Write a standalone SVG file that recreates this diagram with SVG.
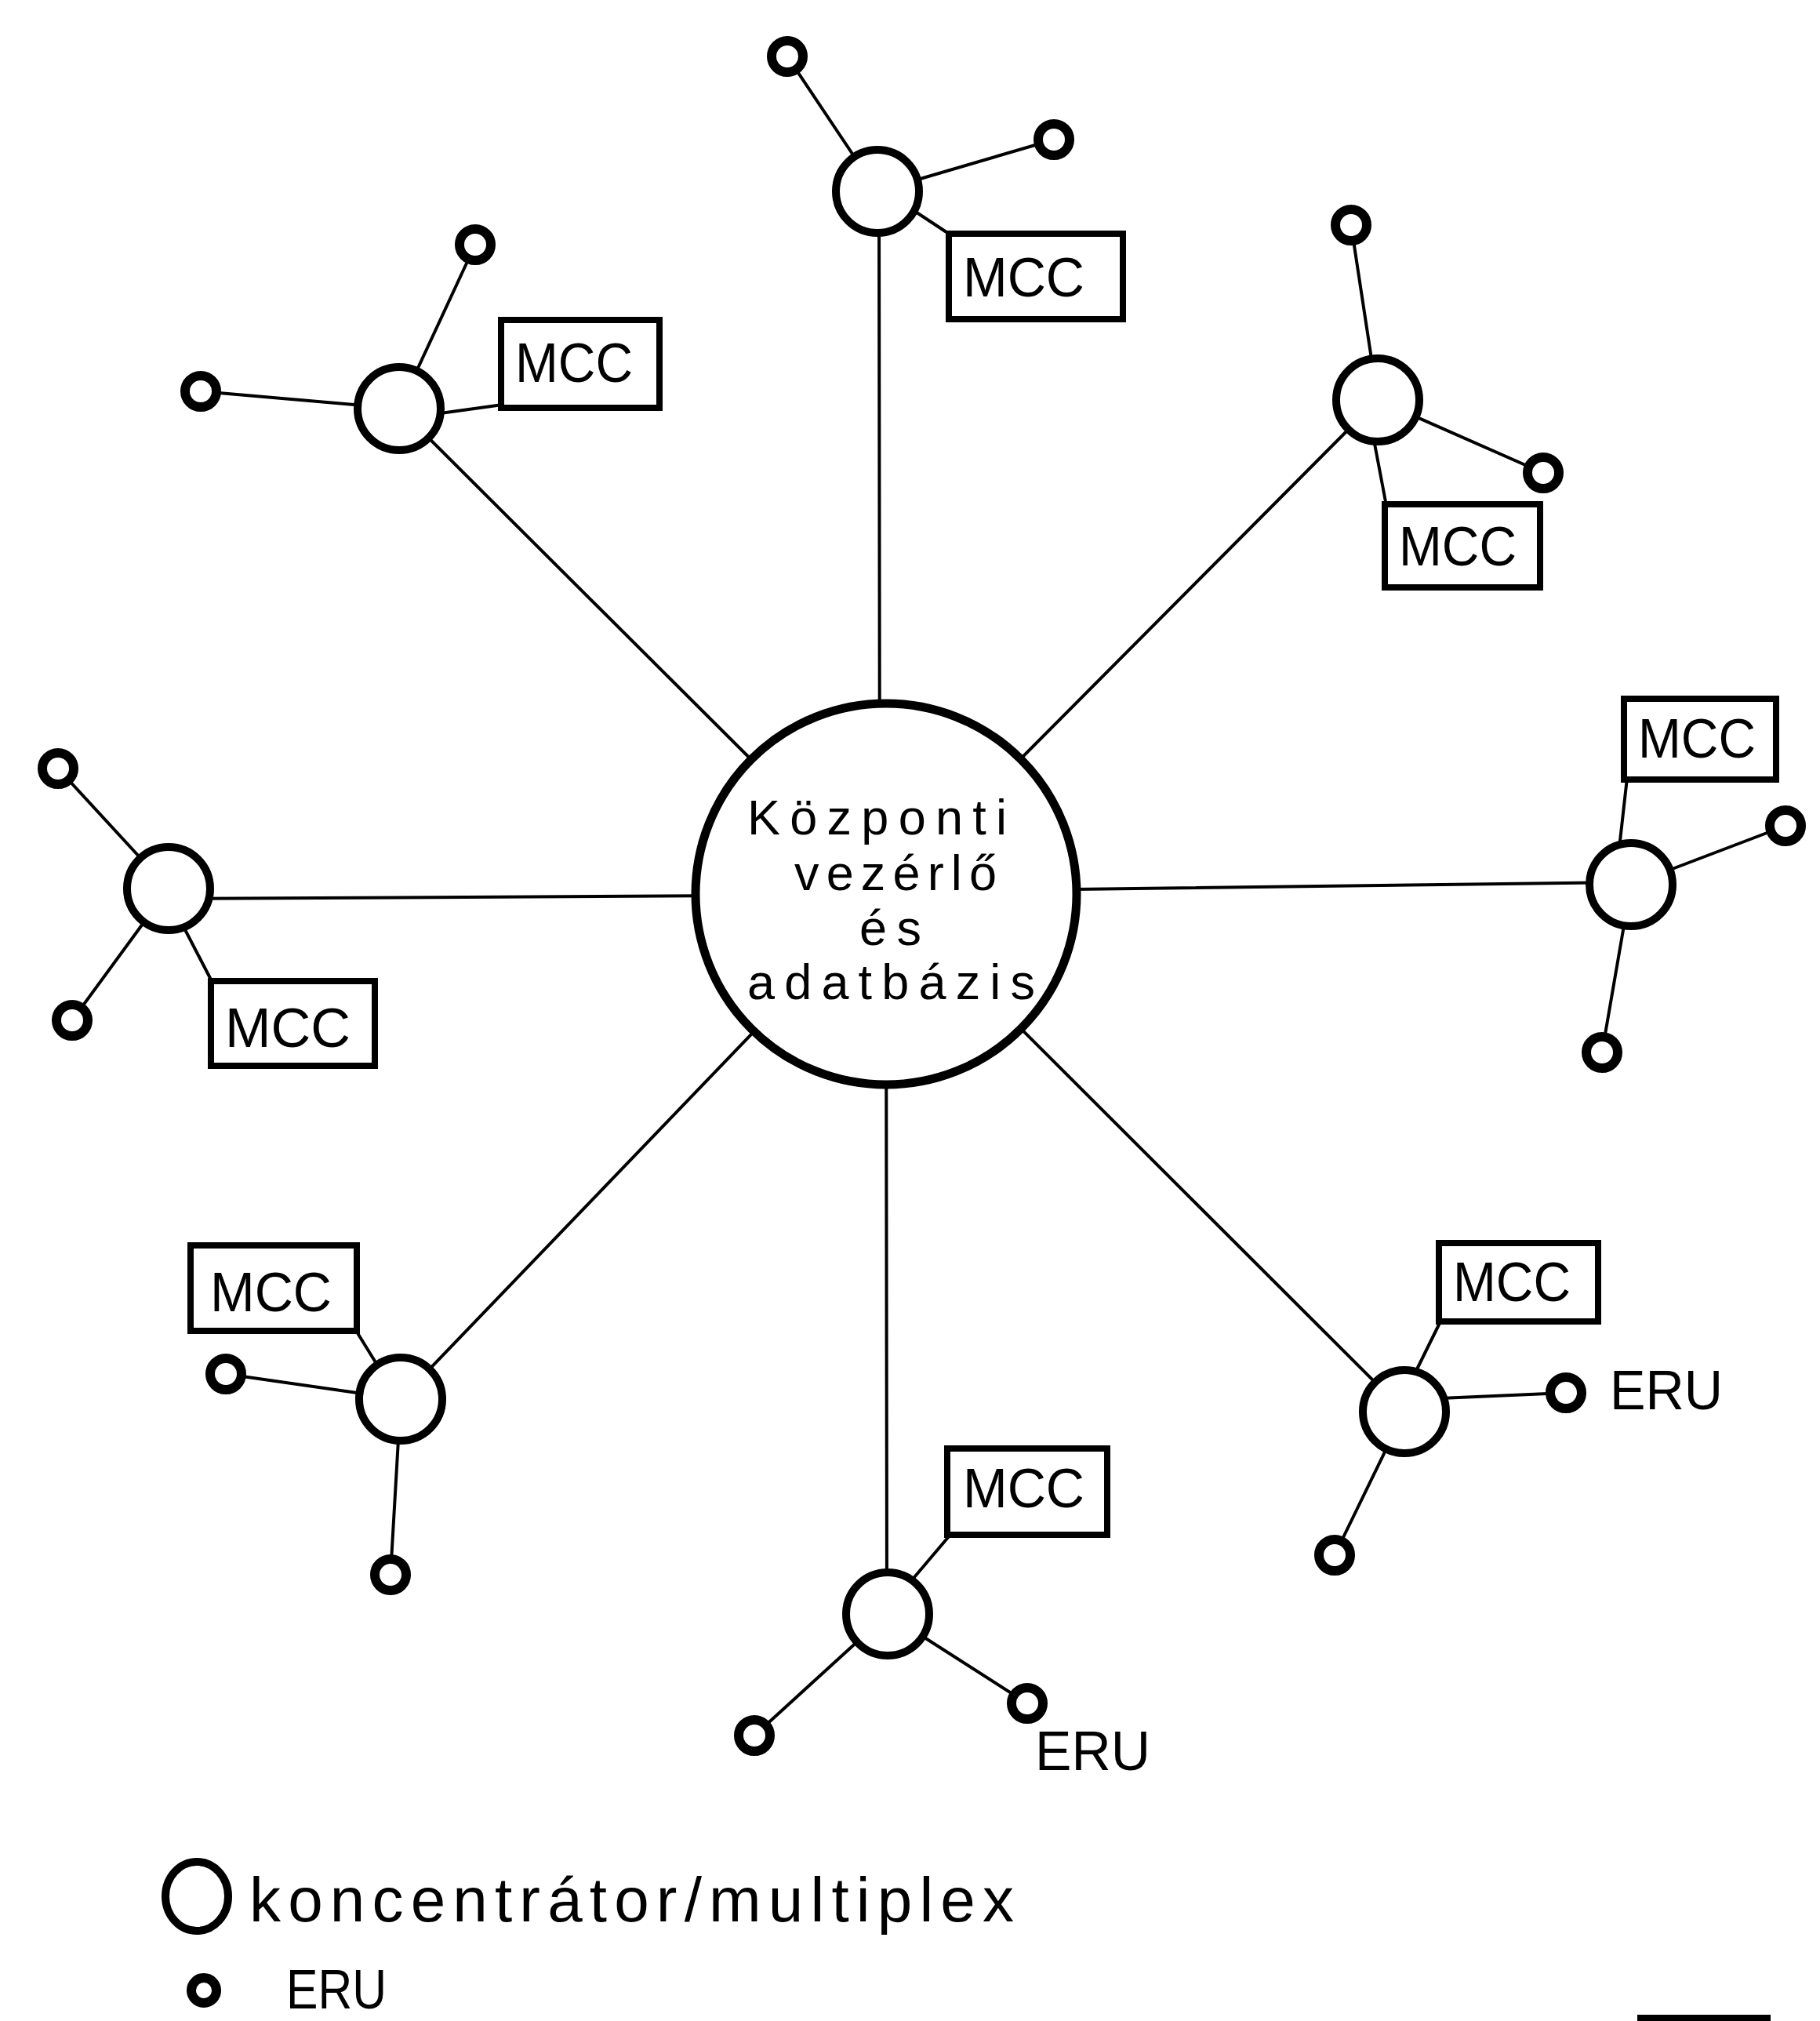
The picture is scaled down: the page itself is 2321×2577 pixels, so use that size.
<svg xmlns="http://www.w3.org/2000/svg" width="2321" height="2577" viewBox="0 0 2321 2577">
  <style>
    .conn { stroke: #000; stroke-width: 4; fill: none; stroke-linecap: round; }
    .conc { fill: #fff; stroke: #000; stroke-width: 10; }
    .hub { fill: #fff; stroke: #000; stroke-width: 11; }
    .eru { fill: #fff; stroke: #000; stroke-width: 12; }
    .box { fill: #fff; stroke: #000; stroke-width: 8; }
    text { font-family: "Liberation Sans", Arial, sans-serif; fill: #000; }
    .mcc { font-size: 70px; }
    .lbl { font-size: 70px; }
    .hubtxt { font-size: 63px; }
    .legtxt { font-size: 80px; }
  </style>
  <rect width="2321" height="2577" fill="#fff"/>

  <!-- connectors: radial spokes, ERU feeders and MCC links -->
  <g id="connectors">
    <!-- spokes from the central controller to the concentrators -->
    <line class="conn" x1="1121" y1="244" x2="1122" y2="1140"/>
    <line class="conn" x1="1757" y1="510" x2="1130" y2="1140"/>
    <line class="conn" x1="2080" y1="1125" x2="1130" y2="1137"/>
    <line class="conn" x1="1791" y1="1800" x2="1130" y2="1140"/>
    <line class="conn" x1="1130" y1="1140" x2="1131" y2="2058"/>
    <line class="conn" x1="511" y1="1784" x2="1130" y2="1140"/>
    <line class="conn" x1="215" y1="1146" x2="1130" y2="1141"/>
    <line class="conn" x1="509" y1="521" x2="1130" y2="1140"/>

    <!-- ERU feeders -->
    <line class="conn" x1="1119" y1="244" x2="1004" y2="72"/>
    <line class="conn" x1="1119" y1="244" x2="1344" y2="178"/>
    <line class="conn" x1="1757" y1="510" x2="1723" y2="287"/>
    <line class="conn" x1="1757" y1="510" x2="1968" y2="603"/>
    <line class="conn" x1="2080" y1="1128" x2="2277" y2="1053"/>
    <line class="conn" x1="2080" y1="1128" x2="2043" y2="1342"/>
    <line class="conn" x1="1791" y1="1785" x2="1997" y2="1776"/>
    <line class="conn" x1="1791" y1="1800" x2="1702" y2="1983"/>
    <line class="conn" x1="1132" y1="2058" x2="962" y2="2213"/>
    <line class="conn" x1="1132" y1="2058" x2="1310" y2="2172"/>
    <line class="conn" x1="511" y1="1784" x2="288" y2="1752"/>
    <line class="conn" x1="511" y1="1784" x2="498" y2="2008"/>
    <line class="conn" x1="215" y1="1133" x2="74" y2="980"/>
    <line class="conn" x1="215" y1="1133" x2="92" y2="1301"/>
    <line class="conn" x1="509" y1="521" x2="606" y2="312"/>
    <line class="conn" x1="509" y1="521" x2="256" y2="499"/>

    <!-- concentrator to MCC links -->
    <line class="conn" x1="1160" y1="265" x2="1213" y2="300"/>
    <line class="conn" x1="1750" y1="550" x2="1768" y2="645"/>
    <line class="conn" x1="2064" y1="1090" x2="2075" y2="992"/>
    <line class="conn" x1="1800" y1="1760" x2="1838" y2="1683"/>
    <line class="conn" x1="1150" y1="2030" x2="1211" y2="1958"/>
    <line class="conn" x1="490" y1="1755" x2="453" y2="1695"/>
    <line class="conn" x1="228" y1="1170" x2="271" y2="1253"/>
    <line class="conn" x1="540" y1="530" x2="641" y2="516"/>
  </g>

  <!-- central controller and database -->
  <g id="hub">
    <circle class="hub" cx="1130" cy="1140" r="243"/>
    <text class="hubtxt">
      <tspan x="953" y="1064" textLength="331" lengthAdjust="spacing">Központi</tspan>
      <tspan x="1013" y="1135" textLength="258" lengthAdjust="spacing">vezérlő</tspan>
      <tspan x="1096" y="1205" textLength="79" lengthAdjust="spacing">és</tspan>
      <tspan x="953" y="1274" textLength="367" lengthAdjust="spacing">adatbázis</tspan>
    </text>
  </g>

  <!-- concentrator / multiplexer nodes -->
  <g id="node-top">
    <circle class="conc" cx="1119" cy="244" r="53"/>
    <circle class="eru" cx="1004" cy="72" r="20"/>
    <circle class="eru" cx="1344" cy="178" r="20"/>
    <rect class="box" x="1210" y="298" width="222" height="109"/>
    <text class="mcc" x="1228" y="378" textLength="155" lengthAdjust="spacingAndGlyphs">MCC</text>
  </g>

  <g id="node-upper-right">
    <circle class="conc" cx="1757" cy="510" r="53"/>
    <circle class="eru" cx="1723" cy="287" r="20"/>
    <circle class="eru" cx="1968" cy="603" r="20"/>
    <rect class="box" x="1766" y="643" width="198" height="106"/>
    <text class="mcc" x="1784" y="721" textLength="150" lengthAdjust="spacingAndGlyphs">MCC</text>
  </g>

  <g id="node-right">
    <circle class="conc" cx="2080" cy="1128" r="53"/>
    <circle class="eru" cx="2277" cy="1053" r="20"/>
    <circle class="eru" cx="2043" cy="1342" r="20"/>
    <rect class="box" x="2071" y="891" width="194" height="103"/>
    <text class="mcc" x="2089" y="966" textLength="150" lengthAdjust="spacingAndGlyphs">MCC</text>
  </g>

  <g id="node-lower-right">
    <circle class="conc" cx="1791" cy="1800" r="53"/>
    <circle class="eru" cx="1997" cy="1776" r="20"/>
    <circle class="eru" cx="1702" cy="1983" r="20"/>
    <rect class="box" x="1835" y="1585" width="203" height="100"/>
    <text class="mcc" x="1853" y="1659" textLength="150" lengthAdjust="spacingAndGlyphs">MCC</text>
    <text class="lbl" x="2053" y="1797" textLength="144" lengthAdjust="spacingAndGlyphs">ERU</text>
  </g>

  <g id="node-bottom">
    <circle class="conc" cx="1132" cy="2058" r="53"/>
    <circle class="eru" cx="962" cy="2213" r="20"/>
    <circle class="eru" cx="1310" cy="2172" r="20"/>
    <rect class="box" x="1208" y="1847" width="204" height="110"/>
    <text class="mcc" x="1228" y="1922" textLength="155" lengthAdjust="spacingAndGlyphs">MCC</text>
    <text class="lbl" x="1320" y="2257" textLength="147" lengthAdjust="spacingAndGlyphs">ERU</text>
  </g>

  <g id="node-lower-left">
    <circle class="conc" cx="511" cy="1784" r="53"/>
    <circle class="eru" cx="288" cy="1752" r="20"/>
    <circle class="eru" cx="498" cy="2008" r="20"/>
    <rect class="box" x="243" y="1588" width="212" height="109"/>
    <text class="mcc" x="268" y="1672" textLength="155" lengthAdjust="spacingAndGlyphs">MCC</text>
  </g>

  <g id="node-left">
    <circle class="conc" cx="215" cy="1133" r="53"/>
    <circle class="eru" cx="74" cy="980" r="20"/>
    <circle class="eru" cx="92" cy="1301" r="20"/>
    <rect class="box" x="269" y="1251" width="209" height="108"/>
    <text class="mcc" x="287" y="1335" textLength="160" lengthAdjust="spacingAndGlyphs">MCC</text>
  </g>

  <g id="node-upper-left">
    <circle class="conc" cx="509" cy="521" r="53"/>
    <circle class="eru" cx="606" cy="312" r="20"/>
    <circle class="eru" cx="256" cy="499" r="20"/>
    <rect class="box" x="639" y="408" width="202" height="112"/>
    <text class="mcc" x="657" y="487" textLength="150" lengthAdjust="spacingAndGlyphs">MCC</text>
  </g>

  <!-- legend -->
  <g id="legend">
    <ellipse class="conc" cx="251" cy="2418" rx="40" ry="44"/>
    <text class="legtxt" x="318" y="2450" textLength="975" lengthAdjust="spacing">koncentrátor/multiplex</text>
    <circle class="eru" cx="260" cy="2538" r="16"/>
    <text class="lbl" x="365" y="2561" textLength="128" lengthAdjust="spacingAndGlyphs">ERU</text>
  </g>

  <!-- dark strip along the lower right edge -->
  <rect x="2088" y="2569" width="170" height="8" fill="#000"/>
</svg>
